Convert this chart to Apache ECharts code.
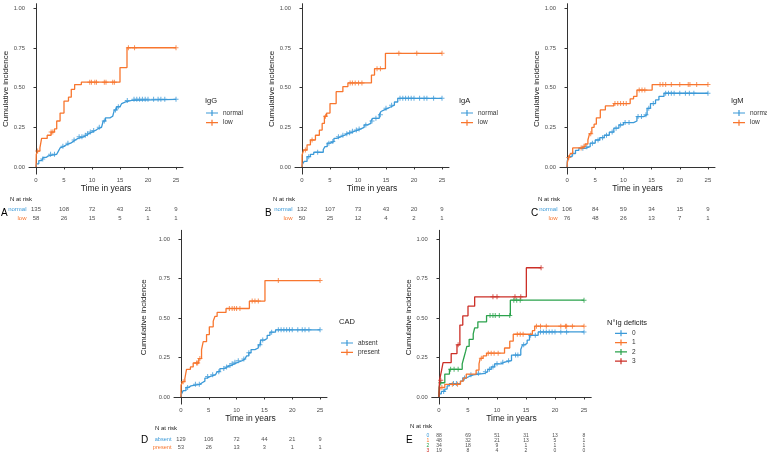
<!DOCTYPE html>
<html><head><meta charset="utf-8">
<script src="https://cdn.jsdelivr.net/npm/echarts@6/dist/echarts.min.js"></script>
<style>html,body{margin:0;padding:0;background:#fff}#c{width:767px;height:453px}</style>
</head><body><div id="c"></div>
<script>
// ---------- tick labels ----------
const timeTicks = [0, 5, 10, 15, 20, 25];
const probTicks = [0, 0.25, 0.5, 0.75, 1];

// ---------- Panel A : IgG ----------
const aNormalT = [0,0.1,0.5,1,1.3,1.8,2.2,3.7,4,4.3,4.6,5,5.4,6.2,6.6,7,7.5,8.5,9,9.4,10,10.6,11,11.7,12,12.4,13.2,13.7,14,14.4,15,15.3,15.6,16,17.1,25];
const aNormalY = [0,0.02,0.04,0.05,0.06,0.07,0.08,0.09,0.10,0.12,0.13,0.14,0.15,0.16,0.17,0.18,0.19,0.20,0.21,0.22,0.23,0.24,0.25,0.26,0.29,0.31,0.32,0.33,0.36,0.38,0.39,0.40,0.41,0.42,0.427,0.427];
const aNormalCensor = [1.2,2.6,3.3,4.8,5.7,6.8,7.7,8.2,8.8,9.2,9.7,10.3,11.3,12.2,14.2,14.7,16.3,17.5,18,18.5,19,19.5,20,21,21.8,22.3,23,25];
const aLowT = [0,0.05,0.3,0.7,1.0,2.0,2.7,3.3,3.7,4.3,5.0,5.8,6.3,6.9,8.1,15.0,16.25,25];
const aLowY = [0,0.08,0.10,0.12,0.18,0.20,0.22,0.24,0.29,0.34,0.416,0.44,0.49,0.52,0.535,0.627,0.752,0.752];
const aLowCensor = [0.3,2.7,3.0,9.6,9.9,10.5,10.8,12.2,12.5,13.7,14.0,16.5,17.6,25];
const riskANormal = [135,108,72,43,21,9];
const riskALow = [58,26,15,5,1,1];

// ---------- Panel B : IgA ----------
const bNormalT = [0,0.1,0.4,0.9,1.5,2.1,3.8,4.1,4.5,5.0,5.7,6.2,6.9,7.6,8.1,8.8,9.3,10.0,10.5,11.1,11.7,12.3,12.6,13.8,14.1,14.4,14.7,15.3,15.9,16.5,17.1,25];
const bNormalY = [0,0.02,0.035,0.065,0.08,0.093,0.11,0.128,0.15,0.16,0.18,0.19,0.20,0.21,0.216,0.225,0.233,0.24,0.25,0.265,0.275,0.29,0.307,0.33,0.35,0.36,0.37,0.38,0.39,0.41,0.433,0.433];
const bNormalCensor = [1.2,2.8,4.8,5.5,6.5,7.3,8.0,8.5,9.0,9.7,10.2,11.4,12.5,13.2,14.0,15.0,16.0,17.5,18,18.5,19,19.5,20,21,21.8,22.3,23.5,25];
const bLowT = [0,0.02,0.3,0.9,1.5,2.4,3.1,3.6,4.0,4.4,5.0,6.1,7.3,8.2,12.4,12.95,14.9,25];
const bLowY = [0,0.076,0.107,0.14,0.17,0.20,0.233,0.275,0.32,0.34,0.40,0.475,0.507,0.53,0.58,0.62,0.717,0.717];
const bLowCensor = [0.6,1.8,4.2,8.6,9.0,9.5,10.1,10.7,13.4,14.0,17.3,20.5,25];
const riskBNormal = [132,107,73,43,20,9];
const riskBLow = [50,25,12,4,2,1];

// ---------- Panel C : IgM ----------
const cNormalT = [0,0.05,0.3,0.9,1.5,2.1,3.2,4.1,5.0,5.8,6.6,7.5,8.3,9.2,10.0,11.8,12.4,13.6,14.2,14.8,15.7,16.3,17.2,25];
const cNormalY = [0,0.04,0.065,0.085,0.105,0.118,0.128,0.15,0.17,0.185,0.20,0.22,0.245,0.265,0.28,0.29,0.318,0.33,0.37,0.40,0.423,0.445,0.465,0.465];
const cNormalCensor = [1.0,2.8,3.5,4.5,5.5,6.3,7.0,8.0,8.7,9.5,10.3,11.0,12.6,13.2,14.0,14.5,15.3,17.5,18,18.5,19,20,21,21.7,22.5,25];
const cLowT = [0,0.05,0.3,0.6,1.0,2.6,3.2,3.7,4.0,4.4,4.8,5.2,5.9,6.8,8.3,11.2,11.8,12.4,15.1,25];
const cLowY = [0,0.03,0.06,0.085,0.12,0.13,0.145,0.17,0.21,0.25,0.27,0.31,0.36,0.385,0.40,0.43,0.445,0.485,0.52,0.52];
const cLowCensor = [0.3,2.5,3.0,4.2,8.5,9.0,9.5,10.0,10.5,12.8,13.3,13.8,16.5,17.0,17.5,18.5,20.0,21.5,21.8,23.0,25];
const riskCNormal = [106,84,59,34,15,9];
const riskCLow = [76,48,26,13,7,1];

// ---------- Panel D : CAD ----------
const dAbsentT = [0,0.1,0.4,0.9,1.3,1.8,3.4,3.8,4.3,4.7,5.3,6.2,6.5,7.0,7.8,8.3,9.0,9.6,10.3,11.0,11.5,11.8,12.2,12.6,13.3,13.9,14.3,15.0,15.5,16.0,17.0,25];
const dAbsentY = [0,0.02,0.04,0.06,0.07,0.08,0.09,0.10,0.12,0.13,0.14,0.15,0.16,0.18,0.19,0.20,0.21,0.22,0.23,0.24,0.25,0.26,0.28,0.30,0.31,0.33,0.36,0.37,0.39,0.41,0.425,0.425];
const dAbsentCensor = [1.2,2.6,3.3,4.8,5.7,6.8,7.7,8.2,8.8,9.2,9.7,10.3,11.3,12.2,14.2,14.7,16.3,17.5,18,18.5,19,19.5,20,21,21.8,22.3,23,25];
const dPresentT = [0,0.02,0.3,0.7,1.0,1.7,2.2,3.2,3.7,4.0,4.6,5.1,5.8,6.1,6.5,8.1,12.3,15.1,25];
const dPresentY = [0,0.075,0.097,0.117,0.175,0.19,0.215,0.243,0.30,0.35,0.395,0.444,0.48,0.51,0.535,0.56,0.607,0.737,0.737];
const dPresentCensor = [0.4,2.8,3.0,3.4,8.7,9.2,9.6,10.0,10.6,12.8,13.3,13.9,17.5,25];
const riskDAbsent = [129,106,72,44,21,9];
const riskDPresent = [53,26,13,3,1,1];

// ---------- Panel E : number of Ig deficits ----------
const e0T = [0,0.02,0.4,1.0,1.4,1.8,3.7,4.1,4.7,5.2,5.9,7.9,8.4,9.0,9.6,10.7,11.3,12.5,14.1,14.4,14.8,15.2,15.6,17.1,25];
const e0Y = [0,0.02,0.035,0.05,0.07,0.085,0.10,0.12,0.13,0.14,0.15,0.16,0.175,0.19,0.21,0.22,0.23,0.265,0.30,0.33,0.34,0.36,0.39,0.412,0.412];
const e0Censor = [0.8,2.5,3.0,4.4,5.5,6.8,8.0,8.7,9.3,10.0,11.0,12.0,13.2,13.6,14.6,15.8,16.6,17.5,18,18.5,19,19.5,20,21,22,25];
const e1T = [0,0.02,0.2,1.0,3.7,4.2,4.7,6.4,6.9,7.1,7.6,8.2,11.3,12.2,12.8,16.1,16.5,25];
const e1Y = [0,0.03,0.06,0.08,0.10,0.12,0.145,0.17,0.21,0.245,0.26,0.277,0.31,0.353,0.397,0.42,0.448,0.448];
const e1Censor = [0.5,2.3,3.2,7.3,8.5,9.0,9.5,10.2,13.5,14.0,14.5,16.8,17.5,18.5,21.0,21.8,22.0,23.0,25];
const e2T = [0,0.02,0.2,1.0,1.8,4.0,4.3,4.6,4.8,5.2,5.9,6.15,6.7,8.2,12.3,25];
const e2Y = [0,0.06,0.09,0.145,0.175,0.21,0.25,0.29,0.32,0.365,0.40,0.438,0.476,0.515,0.613,0.613];
const e2Censor = [0.3,2.0,2.6,3.3,8.8,9.3,9.7,10.4,12.2,12.9,13.4,14.0,25];
const e3T = [0,0.02,0.1,0.4,0.7,2.1,3.1,3.6,4.1,5.0,6.15,15.06,17.6];
const e3Y = [0,0.05,0.106,0.16,0.218,0.275,0.33,0.455,0.514,0.575,0.634,0.818,0.818];
const e3Censor = [0.3,3.3,9.3,10.0,13.1,14.1,17.6];
const riskE0 = [88,69,51,31,13,8];
const riskE1 = [48,32,21,13,5,1];
const riskE2 = [34,18,9,1,1,1];
const riskE3 = [19,8,4,2,0,0];

// ---------- styling ----------
const BLUE = '#3C9AD8', ORANGE = '#F8762E', GREEN = '#2BA24C', RED = '#CC2F27';
const FONT = '"Liberation Sans", Arial, Helvetica, sans-serif';
const PLUS = 'path://M0,4L10,4L10,6L0,6Z M4,0L6,0L6,10L4,10Z';
const LEGICON = 'path://M0,2.4L12,2.4L12,3.6L0,3.6Z M5.4,0L6.6,0L6.6,6L5.4,6Z';

const panels = [
  { id:'A', title:'IgG', grid:{left:29,top:3.7,width:154,height:170.4}, yMax:1.03, yGap:19,
    risk:{top:205,height:18,font:6}, letter:[1,213], nrisk:[10,199], legTitle:[205,101], leg:{left:206,top:109.5,gap:2.7},
    curves:[{n:'normal',c:BLUE,T:aNormalT,Y:aNormalY,C:aNormalCensor,R:riskANormal},
            {n:'low',c:ORANGE,T:aLowT,Y:aLowY,C:aLowCensor,R:riskALow}] },
  { id:'B', title:'IgA', grid:{left:295,top:3.7,width:154,height:170.4}, yMax:1.03, yGap:19,
    risk:{top:205,height:18,font:6}, letter:[265,213], nrisk:[273,199], legTitle:[459,101], leg:{left:461,top:109.5,gap:2.7},
    curves:[{n:'normal',c:BLUE,T:bNormalT,Y:bNormalY,C:bNormalCensor,R:riskBNormal},
            {n:'low',c:ORANGE,T:bLowT,Y:bLowY,C:bLowCensor,R:riskBLow}] },
  { id:'C', title:'IgM', grid:{left:560,top:3.7,width:155,height:170.4}, yMax:1.03, yGap:19,
    risk:{top:205,height:18,font:6}, letter:[531,213], nrisk:[538,199], legTitle:[731,101], leg:{left:733,top:109.5,gap:2.7},
    curves:[{n:'normal',c:BLUE,T:cNormalT,Y:cNormalY,C:cNormalCensor,R:riskCNormal},
            {n:'low',c:ORANGE,T:cLowT,Y:cLowY,C:cLowCensor,R:riskCLow}] },
  { id:'D', title:'CAD', grid:{left:174,top:230.3,width:153,height:173.8}, yMax:1.055, yGap:26,
    risk:{top:435.3,height:16,font:5.6}, letter:[141,440], nrisk:[155,428], legTitle:[339,322], leg:{left:341,top:339.5,gap:2.3},
    curves:[{n:'absent',c:BLUE,T:dAbsentT,Y:dAbsentY,C:dAbsentCensor,R:riskDAbsent},
            {n:'present',c:ORANGE,T:dPresentT,Y:dPresentY,C:dPresentCensor,R:riskDPresent}] },
  { id:'E', title:'N°Ig deficits', grid:{left:431.75,top:230.3,width:159.5,height:173.8}, yMax:1.055, yGap:19,
    risk:{top:433.3,height:19.5,font:5}, letter:[406,440], nrisk:[410,426], legTitle:[607,323], leg:{left:615,top:329.8,gap:2.3},
    curves:[{n:'0',c:BLUE,T:e0T,Y:e0Y,C:e0Censor,R:riskE0},
            {n:'1',c:ORANGE,T:e1T,Y:e1Y,C:e1Censor,R:riskE1},
            {n:'2',c:GREEN,T:e2T,Y:e2Y,C:e2Censor,R:riskE2},
            {n:'3',c:RED,T:e3T,Y:e3Y,C:e3Censor,R:riskE3}] }
];

function valAt(T, Y, t) { let v = Y[0]; for (let i = 0; i < T.length; i++) if (T[i] <= t + 1e-9) v = Y[i]; return v; }

const grid = [], xAxis = [], yAxis = [], series = [], legend = [], graphic = [];
const axisLine = { show:true, lineStyle:{ color:'#333', width:1 } };
panels.forEach((p, pi) => {
  const gi = grid.length;
  grid.push(Object.assign({ containLabel:false }, p.grid));
  xAxis.push({ type:'value', gridIndex:gi, min:-1.25, max:26.25,
    name:'Time in years', nameLocation:'middle', nameGap:9,
    nameTextStyle:{ fontSize:8.5, color:'#1a1a1a', fontFamily:FONT, verticalAlign:'top' },
    axisLine, splitLine:{show:false},
    axisTick:{ show:true, length:2.5, lineStyle:{color:'#333'}, customValues:timeTicks },
    axisLabel:{ fontSize:6, color:'#4d4d4d', fontFamily:FONT, margin:3, customValues:timeTicks } });
  yAxis.push({ type:'value', gridIndex:gi, min:-0.045, max:p.yMax,
    name:'Cumulative incidence', nameLocation:'middle', nameGap:p.yGap, nameRotate:90,
    nameTextStyle:{ fontSize:8, color:'#1a1a1a', fontFamily:FONT },
    axisLine, splitLine:{show:false},
    axisTick:{ show:true, length:2.5, lineStyle:{color:'#333'}, customValues:probTicks },
    axisLabel:{ fontSize:5.8, color:'#4d4d4d', fontFamily:FONT, margin:4, customValues:probTicks,
      formatter: v => v.toFixed(2) } });
  // risk table grid
  const ri = grid.length;
  grid.push({ left:p.grid.left, width:p.grid.width, top:p.risk.top, height:p.risk.height });
  xAxis.push({ type:'value', gridIndex:ri, min:-1.25, max:26.25, show:false });
  const cols = p.curves.map(c => c.c);
  yAxis.push({ type:'category', gridIndex:ri, inverse:true, data:p.curves.map(c => c.n),
    axisLine:{show:false}, axisTick:{show:false}, splitLine:{show:false},
    axisLabel:{ interval:0, fontSize:p.risk.font, fontFamily:FONT, margin:2.5, color:(v, i) => cols[i] } });

  p.curves.forEach((c, ci) => {
    const nm = p.id + '|' + c.n;
    series.push({ type:'line', name:nm, xAxisIndex:gi, yAxisIndex:gi, step:'end', showSymbol:false,
      data:c.T.map((t, i) => [t, c.Y[i]]), lineStyle:{ color:c.c, width:1.3 }, itemStyle:{ color:c.c },
      z:2 + ci, silent:true });
    series.push({ type:'scatter', name:nm + '|c', xAxisIndex:gi, yAxisIndex:gi, symbol:PLUS, symbolSize:5,
      data:c.C.map(t => [t, valAt(c.T, c.Y, t)]), itemStyle:{ color:c.c }, z:2 + ci, silent:true });
    series.push({ type:'scatter', name:nm + '|r', xAxisIndex:ri, yAxisIndex:ri, symbolSize:1,
      itemStyle:{ color:'rgba(255,255,255,0)' }, silent:true,
      data:timeTicks.map((t, k) => [t, ci, c.R[k]]),
      label:{ show:true, position:'inside', formatter:q => String(q.value[2]), fontSize:p.risk.font, color:'#222', fontFamily:FONT } });
  });
  legend.push({ orient:'vertical', left:p.leg.left, top:p.leg.top, padding:0, itemWidth:12, itemHeight:6,
    itemGap:p.leg.gap, icon:LEGICON, selectedMode:false,
    data:p.curves.map(c => p.id + '|' + c.n), formatter:n => n.split('|')[1],
    textStyle:{ fontSize:6.5, color:'#333', fontFamily:FONT, lineHeight:7 } });
  graphic.push({ type:'text', x:p.legTitle[0], y:p.legTitle[1],
    style:{ text:p.title, fontSize:7.5, fill:'#1a1a1a', fontFamily:FONT, verticalAlign:'middle', textVerticalAlign:'middle' } });
  graphic.push({ type:'text', x:p.nrisk[0], y:p.nrisk[1],
    style:{ text:'N at risk', fontSize:6, fill:'#1a1a1a', fontFamily:FONT, verticalAlign:'middle', textVerticalAlign:'middle' } });
  graphic.push({ type:'text', x:p.letter[0], y:p.letter[1],
    style:{ text:p.id, fontSize:10, fill:'#000', fontFamily:FONT, verticalAlign:'middle', textVerticalAlign:'middle' } });
});

const chart = echarts.init(document.getElementById('c'), null, { renderer:'canvas' });
chart.setOption({ animation:false, backgroundColor:'#fff', grid, xAxis, yAxis, series, legend, graphic });
</script></body></html>
